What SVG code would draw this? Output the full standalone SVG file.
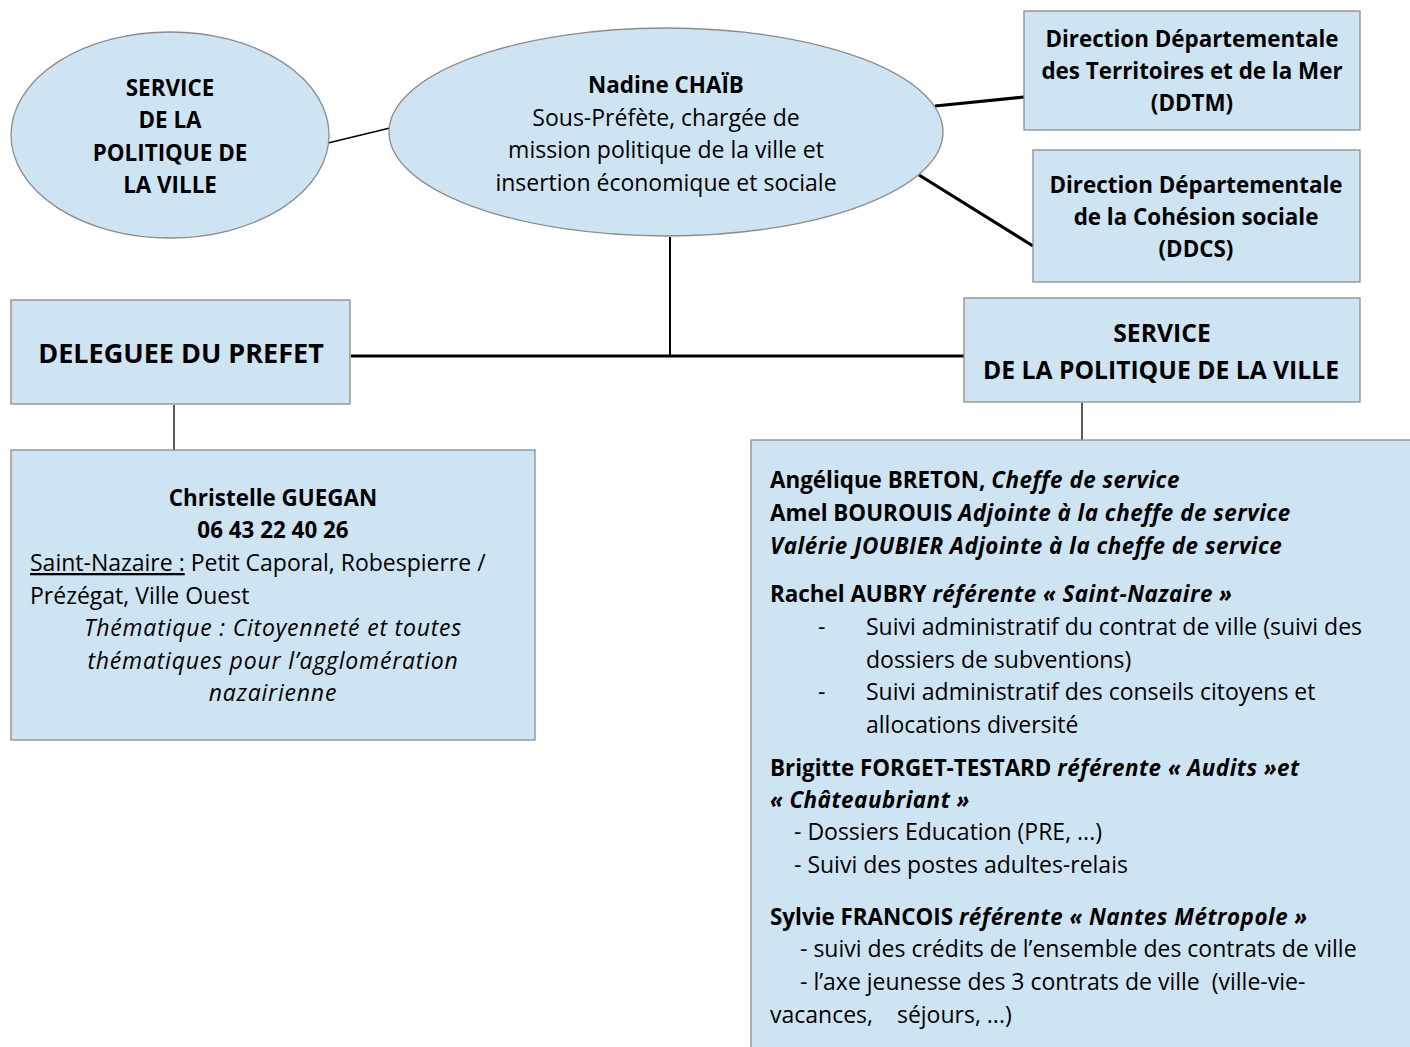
<svg xmlns="http://www.w3.org/2000/svg" width="1410" height="1047" viewBox="0 0 1410 1047">
<style>
.n{fill:#cfe4f3;stroke:#8c8c8c;stroke-width:1.3}
text{font-family:"Open Sans",Lato,"Liberation Sans",sans-serif;font-size:23px;fill:#000}
.c{text-anchor:middle}
.b{font-weight:bold;font-size:22.4px}
.i{font-style:italic;letter-spacing:0.8px}
.bi{font-weight:bold;font-style:italic;font-size:22.4px;letter-spacing:0.5px}
.big{font-size:24.7px}
.dp{font-size:27px}
.thin{stroke:#000;stroke-width:1.3;fill:none}
.med{stroke:#000;stroke-width:2;fill:none}
.thick{stroke:#000;stroke-width:3.2;fill:none}
</style>
<rect width="1410" height="1047" fill="#fff"/>
<g id="connectors">
<line class="thin" x1="328" y1="143" x2="390" y2="128"/>
<line class="thick" x1="935" y1="106" x2="1024" y2="97"/>
<line class="thick" x1="919" y1="175" x2="1033" y2="246"/>
<line class="thick" x1="351" y1="356" x2="964" y2="356"/>
<line class="med" x1="670" y1="237" x2="670" y2="356"/>
<line class="thin" x1="174" y1="405" x2="174" y2="450"/>
<line class="thin" x1="1082" y1="403" x2="1082" y2="440"/>
</g>
<g id="spv-ellipse">
<ellipse class="n" cx="170" cy="135" rx="159" ry="103"/>
<text class="c b" x="170" y="96">SERVICE</text>
<text class="c b" x="170" y="128">DE LA</text>
<text class="c b" x="170" y="161">POLITIQUE DE</text>
<text class="c b" x="170" y="193">LA VILLE</text>
</g>
<g id="chaib">
<ellipse class="n" cx="666" cy="132" rx="277" ry="104"/>
<text class="c b" x="666" y="93">Nadine CHAÏB</text>
<text class="c" x="666" y="126">Sous-Préfète, chargée de</text>
<text class="c" x="666" y="158">mission politique de la ville et</text>
<text class="c" x="666" y="191">insertion économique et sociale</text>
</g>
<g id="ddtm">
<rect class="n" x="1024" y="11" width="336" height="119"/>
<text class="c b" x="1192" y="47">Direction Départementale</text>
<text class="c b" x="1192" y="79">des Territoires et de la Mer</text>
<text class="c b" x="1192" y="111">(DDTM)</text>
</g>
<g id="ddcs">
<rect class="n" x="1033" y="150" width="327" height="132"/>
<text class="c b" x="1196" y="193">Direction Départementale</text>
<text class="c b" x="1196" y="225">de la Cohésion sociale</text>
<text class="c b" x="1196" y="257">(DDCS)</text>
</g>
<g id="deleguee">
<rect class="n" x="11" y="300" width="339" height="104"/>
<text class="c b dp" x="181" y="363">DELEGUEE DU PREFET</text>
</g>
<g id="spv-box">
<rect class="n" x="964" y="298" width="396" height="104"/>
<text class="c b big" x="1162" y="342">SERVICE</text>
<text class="c b big" x="1161" y="379">DE LA POLITIQUE DE LA VILLE</text>
</g>
<g id="guegan">
<rect class="n" x="11" y="450" width="524" height="290"/>
<text class="c b" x="273" y="506">Christelle GUEGAN</text>
<text class="c b" x="273" y="538">06 43 22 40 26</text>
<text x="30" y="571"><tspan text-decoration="underline">Saint-Nazaire :</tspan> Petit Caporal, Robespierre /</text>
<text x="30" y="604">Prézégat, Ville Ouest</text>
<text class="c i" x="273" y="636">Thématique : Citoyenneté et toutes</text>
<text class="c i" x="273" y="669">thématiques pour l’agglomération</text>
<text class="c i" x="273" y="701">nazairienne</text>
</g>
<g id="equipe">
<rect class="n" x="751" y="440" width="670" height="620"/>
<text x="770" y="488"><tspan class="b">Angélique BRETON, </tspan><tspan class="bi">Cheffe de service</tspan></text>
<text x="770" y="521"><tspan class="b">Amel BOUROUIS </tspan><tspan class="bi">Adjointe à la cheffe de service</tspan></text>
<text x="770" y="554" class="bi">Valérie JOUBIER Adjointe à la cheffe de service</text>
<text x="770" y="602"><tspan class="b">Rachel AUBRY </tspan><tspan class="bi">référente « Saint-Nazaire »</tspan></text>
<text x="818" y="635">-</text>
<text x="866" y="635">Suivi administratif du contrat de ville (suivi des</text>
<text x="866" y="668">dossiers de subventions)</text>
<text x="818" y="700">-</text>
<text x="866" y="700">Suivi administratif des conseils citoyens et</text>
<text x="866" y="733">allocations diversité</text>
<text x="770" y="776"><tspan class="b">Brigitte FORGET-TESTARD </tspan><tspan class="bi">référente « Audits »et</tspan></text>
<text x="770" y="808" class="bi">« Châteaubriant »</text>
<text x="794" y="840">- Dossiers Education (PRE, ...)</text>
<text x="794" y="873">- Suivi des postes adultes-relais</text>
<text x="770" y="925"><tspan class="b">Sylvie FRANCOIS </tspan><tspan class="bi">référente « Nantes Métropole »</tspan></text>
<text x="800" y="957">- suivi des crédits de l’ensemble des contrats de ville</text>
<text x="800" y="990" xml:space="preserve">- l’axe jeunesse des 3 contrats de ville  (ville-vie-</text>
<text x="770" y="1023" xml:space="preserve">vacances,    séjours, ...)</text>
</g>
</svg>
